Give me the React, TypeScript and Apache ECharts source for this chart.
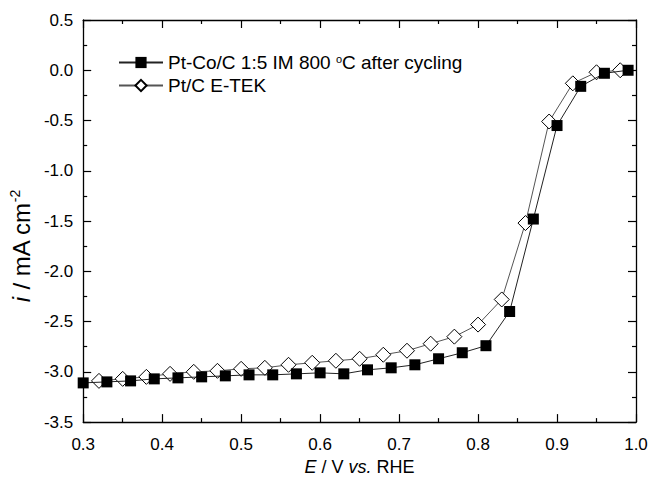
import React, { useEffect, useRef } from "react";
import * as echarts from "echarts";

// Pt-Co/C 1:5 IM 800 °C after cycling (filled squares)
const potentialPtCo = [0.30, 0.33, 0.36, 0.39, 0.42, 0.45, 0.48, 0.51, 0.54, 0.57, 0.60, 0.63, 0.66, 0.69, 0.72, 0.75, 0.78, 0.81, 0.84, 0.87, 0.90, 0.93, 0.96, 0.99];
const currentPtCo = [-3.11, -3.10, -3.09, -3.07, -3.06, -3.05, -3.04, -3.03, -3.03, -3.02, -3.01, -3.02, -2.98, -2.96, -2.93, -2.87, -2.81, -2.74, -2.40, -1.48, -0.55, -0.16, -0.03, 0.00];

// Pt/C E-TEK (open diamonds)
const potentialPtC = [0.32, 0.35, 0.38, 0.41, 0.44, 0.47, 0.50, 0.53, 0.56, 0.59, 0.62, 0.65, 0.68, 0.71, 0.74, 0.77, 0.80, 0.83, 0.86, 0.89, 0.92, 0.95, 0.98];
const currentPtC = [-3.09, -3.07, -3.05, -3.02, -3.00, -2.99, -2.97, -2.96, -2.93, -2.91, -2.89, -2.87, -2.83, -2.79, -2.72, -2.65, -2.53, -2.28, -1.52, -0.51, -0.13, -0.02, 0.00];

const seriesNames = ["Pt-Co/C 1:5 IM 800 °C after cycling", "Pt/C E-TEK"];

const FONT = "'Liberation Sans', Arial, Helvetica, sans-serif";

export default function App() {
  const ref = useRef<HTMLDivElement>(null);
  useEffect(() => {
    if (!ref.current) return;
    const chart = echarts.init(ref.current, null, { renderer: "svg" });
    const ptCo = potentialPtCo.map((x, i) => [x, currentPtCo[i]]);
    const ptC = potentialPtC.map((x, i) => [x, currentPtC[i]]);
    const axisLine = { show: true, onZero: false, lineStyle: { color: "#000", width: 1.3 } };
    const tick = { show: true, inside: true, length: 8, lineStyle: { color: "#000", width: 1.2 } };
    const minor = { show: true, splitNumber: 2, length: 4, lineStyle: { color: "#000", width: 1.2 } };
    chart.setOption({
      animation: false,
      backgroundColor: "#fff",
      textStyle: { fontFamily: FONT },
      grid: { left: 82, right: 16, top: 20, bottom: 48, containLabel: false },
      legend: {
        orient: "vertical",
        left: 113,
        top: 48,
        itemWidth: 44,
        itemHeight: 14,
        itemGap: 4,
        data: seriesNames,
        formatter: (name: string) =>
          name === seriesNames[0] ? "Pt-Co/C 1:5 IM 800 {sup|o}C after cycling" : name,
        textStyle: {
          fontFamily: FONT,
          fontSize: 19,
          lineHeight: 18,
          color: "#000",
          rich: {
            sup: { fontSize: 11, fontFamily: FONT, color: "#000", verticalAlign: "top", padding: [0, 0, 9, 0] },
          },
        },
      },
      xAxis: [
        {
          type: "value",
          min: 0.3,
          max: 1.0,
          interval: 0.1,
          position: "bottom",
          axisLine,
          axisTick: tick,
          minorTick: minor,
          splitLine: { show: false },
          axisLabel: {
            color: "#000",
            fontSize: 17,
            fontFamily: FONT,
            margin: 14,
            formatter: (v: number) => v.toFixed(1),
          },
          name: "{i|E} / V {i|vs.} RHE",
          nameLocation: "middle",
          nameGap: 31,
          nameTextStyle: {
            fontSize: 18,
            color: "#000",
            fontFamily: FONT,
            rich: { i: { fontStyle: "italic", fontSize: 18, fontFamily: FONT, color: "#000" } },
          },
        },
        {
          type: "value",
          min: 0.3,
          max: 1.0,
          interval: 0.1,
          position: "top",
          axisLine,
          axisTick: tick,
          minorTick: minor,
          splitLine: { show: false },
          axisLabel: { show: false },
        },
      ],
      yAxis: [
        {
          type: "value",
          min: -3.5,
          max: 0.5,
          interval: 0.5,
          position: "left",
          axisLine,
          axisTick: tick,
          minorTick: minor,
          splitLine: { show: false },
          axisLabel: {
            color: "#000",
            fontSize: 17,
            fontFamily: FONT,
            margin: 10,
            formatter: (v: number) => v.toFixed(1),
          },
          name: "{i|i} / mA cm{sup|-2}",
          nameLocation: "middle",
          nameGap: 48,
          nameRotate: 90,
          nameTextStyle: {
            fontSize: 24,
            color: "#000",
            fontFamily: FONT,
            padding: [0, 50, 0, 0],
            rich: {
              i: { fontStyle: "italic", fontSize: 24, fontFamily: FONT, color: "#000" },
              sup: { fontSize: 14, fontFamily: FONT, color: "#000", verticalAlign: "top", padding: [0, 0, 12, 0] },
            },
          },
        },
        {
          type: "value",
          min: -3.5,
          max: 0.5,
          interval: 0.5,
          position: "right",
          axisLine,
          axisTick: tick,
          minorTick: minor,
          splitLine: { show: false },
          axisLabel: { show: false },
        },
      ],
      series: [
        {
          name: seriesNames[0],
          type: "line",
          data: ptCo,
          xAxisIndex: 0,
          yAxisIndex: 0,
          symbol: "rect",
          symbolSize: 11,
          z: 4,
          itemStyle: { color: "#000", borderColor: "#000", borderWidth: 0 },
          lineStyle: { color: "#222", width: 1 },
        },
        {
          name: seriesNames[1],
          type: "line",
          data: ptC,
          xAxisIndex: 0,
          yAxisIndex: 0,
          symbol: "diamond",
          symbolSize: 15,
          z: 3,
          itemStyle: { color: "#fff", borderColor: "#000", borderWidth: 1 },
          lineStyle: { color: "#555", width: 1 },
        },
      ],
    });
    return () => chart.dispose();
  }, []);
  return (
    <div
      ref={ref}
      style={{ position: "fixed", left: 0, top: 0, width: 652, height: 481, background: "#fff" }}
    />
  );
}
